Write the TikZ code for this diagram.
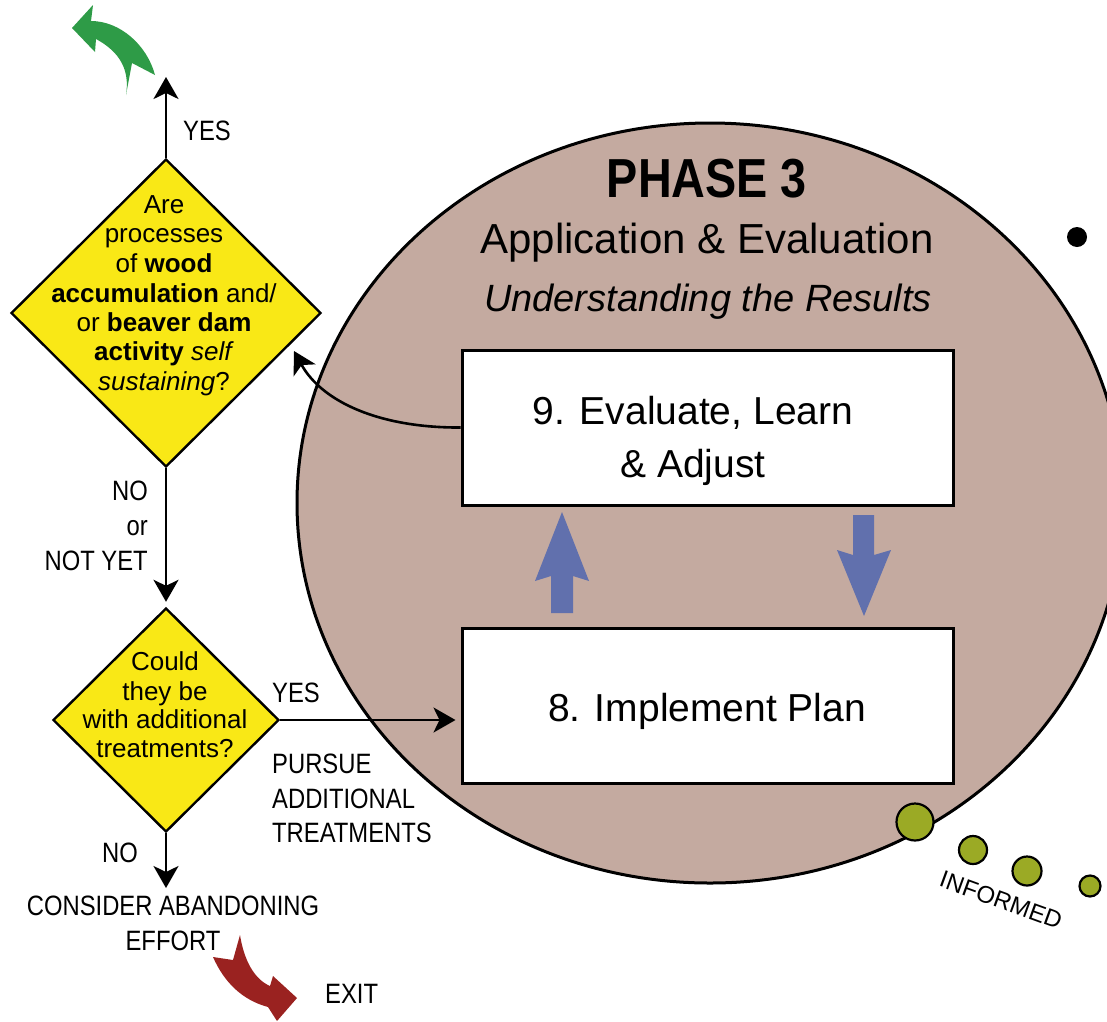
\documentclass[tikz,border=0pt]{standalone}
\usepackage{fontspec}
\setmainfont{Liberation Sans}
\newfontfamily\cf[FakeStretch=0.85]{Liberation Sans}
\usetikzlibrary{shapes.geometric,arrows.meta}
\definecolor{phasebg}{RGB}{196,170,160}
\definecolor{dyellow}{RGB}{249,232,22}
\definecolor{ablue}{RGB}{97,112,173}
\definecolor{dotgreen}{RGB}{155,170,37}
\definecolor{exitred}{RGB}{154,34,32}
\definecolor{yesgreen}{RGB}{46,155,71}
\begin{document}
\begin{tikzpicture}[x=1pt,y=-1pt,
  flow/.style={line width=2.6pt,-{Stealth[length=22pt,width=25pt,inset=6pt]}},
  decision/.style={diamond,draw,line width=2.4pt,fill=dyellow,inner sep=0pt},
  stepbox/.style={rectangle,draw,line width=3pt,fill=white,minimum width=491pt,minimum height=155pt,inner sep=0pt},
  lbl/.style={font=\cf\fontsize{28}{34}\selectfont,inner sep=0pt},
  dq/.style={font=\fontsize{26}{30}\selectfont,inner sep=0pt,anchor=base},
  boxtxt/.style={font=\fontsize{39}{53}\selectfont,inner sep=0pt,anchor=base},
  gdot/.style={circle,draw,line width=2.2pt,fill=dotgreen,inner sep=0pt},
  bluearrow/.style={fill=ablue}]
\useasboundingbox (0,0) rectangle (1107,1021);
\begin{scope}
  \clip (0,0) rectangle (1107,1021);
  \draw[fill=phasebg,line width=3pt] (710,503) ellipse [x radius=413, y radius=380];
\end{scope}

% title
\node[font=\cf\bfseries\fontsize{55}{60}\selectfont,inner sep=0pt,anchor=base] (t1) at (707,197) {PHASE 3};
\node[font=\fontsize{42}{48}\selectfont,inner sep=0pt,anchor=base] (t2) at (707,253) {Application \& Evaluation};
\node[font=\itshape\fontsize{38}{44}\selectfont,inner sep=0pt,anchor=base] (t3) at (708,311) {Understanding the Results};

% boxes
\node[stepbox] (s9) at (707.5,427.5) {};
\node[boxtxt] (s9a) at (693,424) {9. Evaluate, Learn};
\node[boxtxt] (s9b) at (693,477) {\& Adjust};
\node[stepbox] (s8) at (707.5,705.5) {};
\node[boxtxt] (s8a) at (707,721) {8. Implement Plan};

% blue arrows
\fill[bluearrow] (551,613) -- (551,576) -- (535,581) -- (562,512) -- (589,581) -- (573,576) -- (573,613) -- cycle;
\fill[bluearrow] (853,515) -- (853,555) -- (837,550) -- (864,616) -- (891,550) -- (874,555) -- (874,515) -- cycle;

% diamonds
\node[decision,minimum width=310pt,minimum height=308pt] (d1) at (166,313) {};
\node[dq] (q1) at (164,213) {Are};
\node[dq] (q2) at (164,242) {processes};
\node[dq] (q3) at (164,272) {of \textbf{wood}};
\node[dq] (q4) at (164,302) {\textbf{accumulation} and/};
\node[dq] (q5) at (164,331) {or \textbf{beaver dam}};
\node[dq] (q6) at (164,360) {\textbf{activity} \textit{self}};
\node[dq] (q7) at (164,390) {\textit{sustaining}?};

\node[decision,minimum width=226pt,minimum height=224pt] (d2) at (166,720) {};
\node[dq] (r1) at (165,670) {Could};
\node[dq] (r2) at (165,700) {they be};
\node[dq] (r3) at (165,728) {with additional};
\node[dq] (r4) at (165,757) {treatments?};

% coordinates
\coordinate (upend) at (166,77);
\coordinate (downend) at (166,888);
\coordinate (backend) at (294,351);

% connectors
\draw[flow] (d1.north) -- (upend);
\draw[flow,shorten >=5pt] (d1.south) -- (d2.north);
\draw[flow,shorten >=5pt] (d2.east) -- (d2.east -| s8.west);
\draw[flow] (d2.south) -- (downend);
\draw[flow] (s9.west) .. controls (380,428) and (322,402) .. (backend);

% labels
\node[lbl,anchor=base west] (yes1) at (183,140) {YES};
\node[lbl,anchor=base east] (no1) at (148,500) {NO};
\node[lbl,anchor=base east] (or1) at (148,535) {or};
\node[lbl,anchor=base east] (ny1) at (148,570) {NOT YET};
\node[lbl,anchor=base west] (yes2) at (272,702) {YES};
\node[lbl,anchor=base west] (pu1) at (272,773) {PURSUE};
\node[lbl,anchor=base west] (pu2) at (272,808) {ADDITIONAL};
\node[lbl,anchor=base west] (pu3) at (272,842) {TREATMENTS};
\node[lbl,anchor=base east] (no2) at (138,862) {NO};
\node[lbl,anchor=base] (ab1) at (173,915) {CONSIDER ABANDONING};
\node[lbl,anchor=base] (ab2) at (173,950) {EFFORT};
\node[lbl,anchor=base west] (exit) at (325,1003) {EXIT};

% curved exit arrows
\fill[yesgreen] (72,28) -- (93,5) -- (91,21) .. controls (120,21) and (147,45) .. (155,75) -- (132,63) -- (126,95) .. controls (130,70) and (120,52) .. (96,39) -- (95,52) -- cycle;
\fill[exitred] (240,935) .. controls (244,960) and (254,979) .. (270,986) -- (273,976) -- (297,998) -- (277,1021) -- (268,1007) .. controls (242,1000) and (224,982) .. (213,957) -- (233,960) -- cycle;

% dots
\node[circle,fill=black,minimum size=20pt,inner sep=0pt] (bdot) at (1077,237) {};
\node[gdot,minimum size=37pt] (g1) at (915,822) {};
\node[gdot,minimum size=28pt] (g2) at (973,850) {};
\node[gdot,minimum size=29pt] (g3) at (1027,871) {};
\node[gdot,minimum size=21pt] (g4) at (1090,886) {};
\node[font=\fontsize{24}{28}\selectfont,inner sep=0pt,rotate=-20] (inf) at (1001,900) {INFORMED};
\end{tikzpicture}
\end{document}
